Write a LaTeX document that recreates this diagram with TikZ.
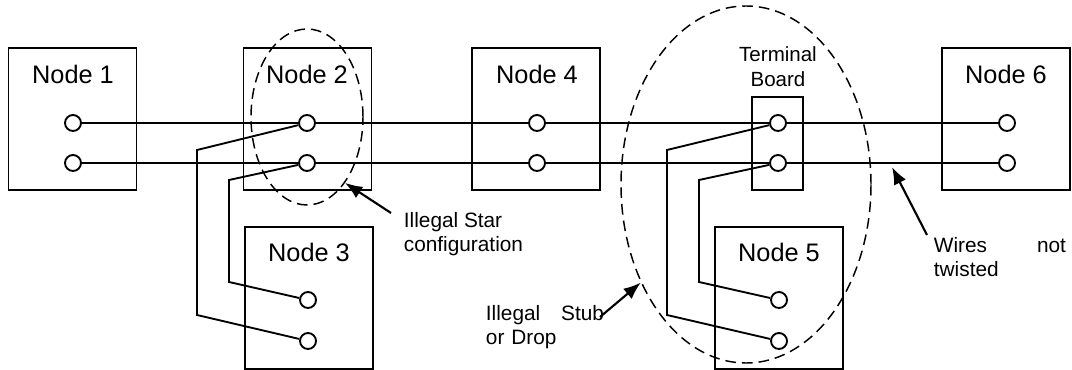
\documentclass[tikz,border=0pt]{standalone}
\usepackage{fontspec}
\setmainfont{Liberation Sans}
\usepackage{tikz}
\usetikzlibrary{arrows.meta,shapes.geometric}

\begin{document}
\begin{tikzpicture}[x=0.75pt,y=-0.75pt,line width=1.4pt,
    box/.style={draw,rectangle,minimum width=96pt,minimum height=106.5pt,inner sep=0pt},
    term/.style={draw,circle,fill=white,minimum size=12pt,inner sep=0pt},
    title/.style={font=\fontsize{19}{22}\selectfont},
    note/.style={font=\fontsize{15.6}{18.4}\selectfont,inner sep=0pt,align=left,anchor=west},
    ring/.style={draw,ellipse,dash pattern=on 8pt off 4.5pt,line width=1.1pt,inner sep=0pt},
    pointer/.style={-{Latex[length=13pt,width=10pt]},line width=1.6pt}]
  \useasboundingbox (0,0) rectangle (1072,370);

  % the units
  \draw (72.5,119) node[box] (node1) {};
  \draw (307.5,119) node[box] (node2) {};
  \draw (536,119) node[box] (node4) {};
  \draw (1006,119) node[box] (node6) {};
  \draw (309,298) node[box] (node3) {};
  \draw (779,298) node[box] (node5) {};
  \draw (777.5,143.5) node[box,minimum width=38.25pt,minimum height=69.75pt] (board) {};

  \draw (73,74) node[title] (lbl1) {Node 1};
  \draw (307,74) node[title] (lbl2) {Node 2};
  \draw (537,74) node[title] (lbl4) {Node 4};
  \draw (1006,74) node[title] (lbl6) {Node 6};
  \draw (309,252) node[title] (lbl3) {Node 3};
  \draw (779,252) node[title] (lbl5) {Node 5};
  \draw (778,67) node[font=\fontsize{15.4}{18.75}\selectfont,align=center,inner sep=0pt] (lblboard) {Terminal\\Board};

  % terminals
  \draw (73,123) node[term] (t1a) {};
  \draw (73,163) node[term] (t1b) {};
  \draw (307,123) node[term] (t2a) {};
  \draw (307,163) node[term] (t2b) {};
  \draw (537,123) node[term] (t4a) {};
  \draw (537,163) node[term] (t4b) {};
  \draw (778,123) node[term] (tba) {};
  \draw (778,163) node[term] (tbb) {};
  \draw (1007,123) node[term] (t6a) {};
  \draw (1007,163) node[term] (t6b) {};
  \draw (308,300) node[term] (t3a) {};
  \draw (308,341) node[term] (t3b) {};
  \draw (779,300) node[term] (t5a) {};
  \draw (779,341) node[term] (t5b) {};

  % bus wires
  \path[-] (t1a) edge (t2a) (t2a) edge (t4a) (t4a) edge (tba) (tba) edge (t6a);
  \path[-] (t1b) edge (t2b) (t2b) edge (t4b) (t4b) edge (tbb) (tbb) edge (t6b);

  % drops
  \draw (t2a) -- (197,150) -- (197,315) -- (t3b);
  \draw (t2b) -- (229,180) -- (229,282) -- (t3a);
  \draw (tba) -- (667,150) -- (667,315) -- (t5b);
  \draw (tbb) -- (699,180) -- (699,282) -- (t5a);

  % remarks
  \draw (307,117) node[ring,minimum width=84pt,minimum height=132pt] (starloop) {};
  \draw (746,184.5) node[ring,minimum width=187.5pt,minimum height=267.75pt] (stubloop) {};

  \draw (403,234) node[note] (starnote) {Illegal Star\\configuration};
  \draw (485,327) node[note,text width=88.5pt] (stubnote) {Illegal\hfill Stub\\or Drop};
  \draw (933,257) node[note,text width=99pt] (twistnote) {Wires\hfill not\\twisted};

  \coordinate (startail) at (391,213);
  \coordinate (stubtail) at (600,317);
  \coordinate (twisttail) at (927,235);
  \coordinate (twisttip) at (892,167);

  \draw[pointer] (startail) -- (starloop.-60);
  \draw[pointer] (stubtail) -- (stubloop.-137);
  \draw[pointer] (twisttail) -- (twisttip);
\end{tikzpicture}
\end{document}
